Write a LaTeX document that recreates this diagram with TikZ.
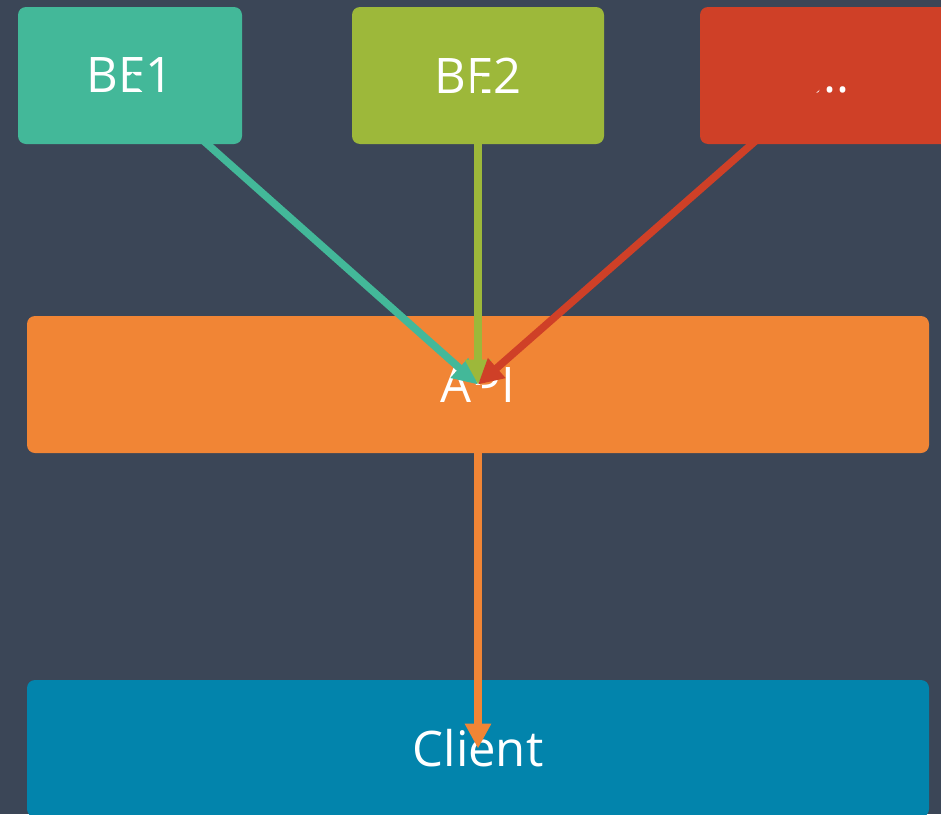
\documentclass[tikz,border=0pt]{standalone}
\usepackage{fontspec}
\setmainfont{Open Sans}
\usetikzlibrary{arrows.meta}
\definecolor{bg}{HTML}{3B4657}
\definecolor{teal}{HTML}{43B899}
\definecolor{olive}{HTML}{9DB83A}
\definecolor{redb}{HTML}{CF4027}
\definecolor{orangeb}{HTML}{F18535}
\definecolor{blueb}{HTML}{0284AC}
\tikzset{
  box/.style={rounded corners=8pt, inner sep=0pt, text=white,
    font=\fontsize{49}{54}\selectfont},
  conn/.style={line width=7.5pt, -{Triangle[width=25pt,length=25pt]}}
}
\begin{document}
\begin{tikzpicture}[x=1pt,y=-1pt]
\useasboundingbox (0,0) rectangle (941,814);
\clip (0,0) rectangle (941,814);
\fill[bg] (0,0) rectangle (941,814);
\node[box, fill=teal, minimum width=224pt, minimum height=137pt] (be1) at (130,75.5) {BE1};
\node[box, fill=olive, minimum width=252pt, minimum height=137pt] (be2) at (478,75.5) {BE2};
\node[box, fill=redb, minimum width=260pt, minimum height=137pt] (be3) at (830,75.5) {\vphantom{BE1}...};
\node[box, fill=orangeb, minimum width=902pt, minimum height=137pt] (api) at (478,384.5) {API};
\node[box, fill=blueb, minimum width=902pt, minimum height=137pt] (client) at (478,748.5) {Client};
\draw[conn, teal] (be1.center) -- (api.center);
\draw[conn, olive] (be2.center) -- (api.center);
\draw[conn, redb] (be3.center) -- (api.center);
\draw[conn, orangeb] (api.center) -- (client.center);
\end{tikzpicture}
\end{document}
